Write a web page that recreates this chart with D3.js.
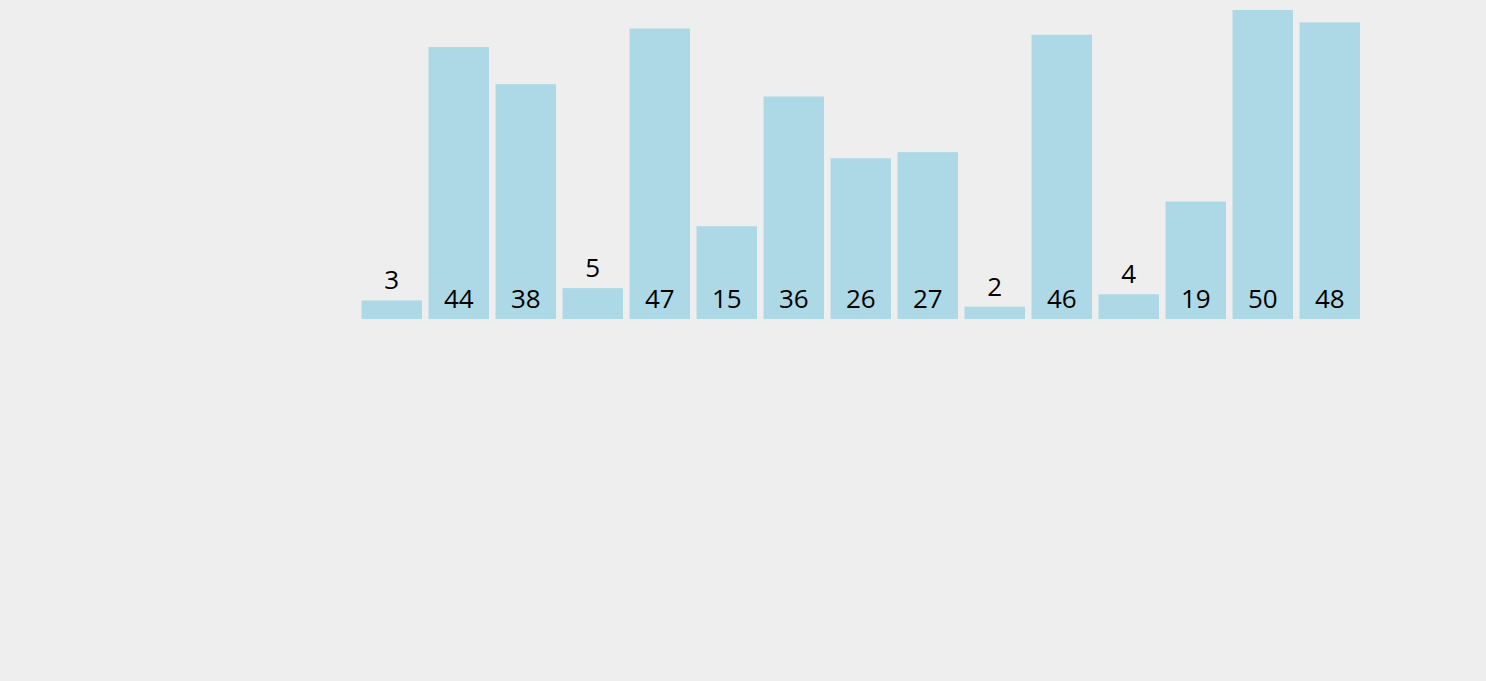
<!DOCTYPE html>
<html>
<head>
<meta charset="utf-8">
<script src="https://cdn.jsdelivr.net/npm/d3@7"></script>
<style>
  html, body { margin: 0; padding: 0; background: #eeeeee; }
  svg { display: block; }
</style>
</head>
<body>
<svg id="chart" width="1486" height="681"></svg>
<script>
const categories = ["0","1","2","3","4","5","6","7","8","9","10","11","12","13","14"];
const values = [3, 44, 38, 5, 47, 15, 36, 26, 27, 2, 46, 4, 19, 50, 48];

const svg = d3.select("#chart");
const x = d3.scaleBand().domain(categories).range([361.5, 361.5 + 15 * 67 - 6.5]).paddingInner(6.5 / 67).paddingOuter(0);
const y = d3.scaleLinear().domain([0, 50]).range([319, 10]);

svg.selectAll("rect.bar")
  .data(values)
  .enter().append("rect")
  .attr("class", "bar")
  .attr("x", (d, i) => x(categories[i]))
  .attr("y", d => y(d))
  .attr("width", x.bandwidth())
  .attr("height", d => y(0) - y(d))
  .attr("fill", "#add8e6");

svg.selectAll("text.label")
  .data(values)
  .enter().append("text")
  .attr("class", "label")
  .attr("x", (d, i) => x(categories[i]) + x.bandwidth() / 2)
  .attr("y", d => d < 10 ? y(d) - 11 : y(0) - 11)
  .attr("text-anchor", "middle")
  .attr("font-family", "'Open Sans', 'Noto Sans', sans-serif")
  .attr("font-size", 26)
  .attr("fill", "#000")
  .text(d => d);
</script>
</body>
</html>
